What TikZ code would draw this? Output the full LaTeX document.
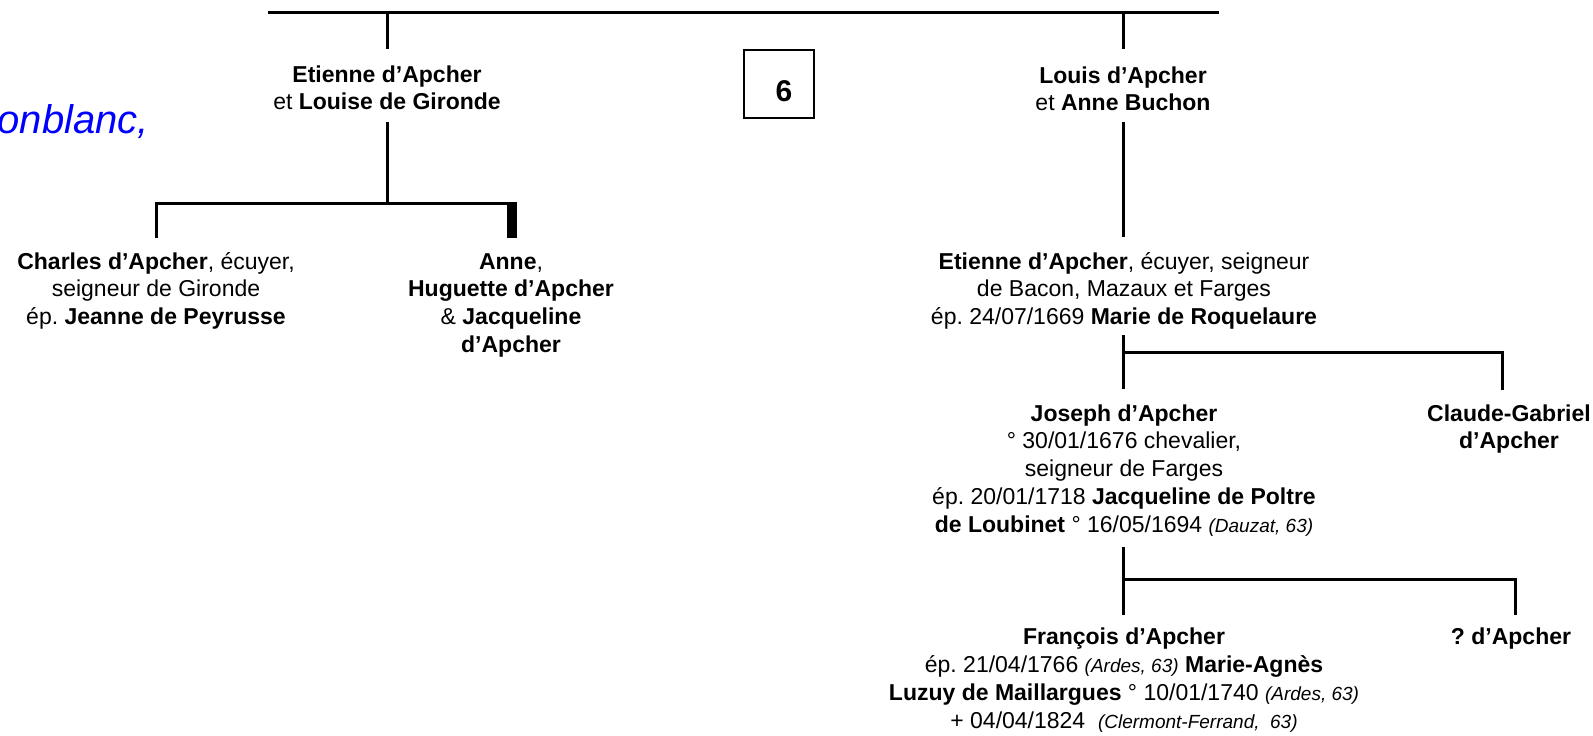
\documentclass[tikz,border=0pt]{standalone}
\usepackage{fontspec}
\setmainfont{Liberation Sans}
\frenchspacing
\begin{document}
\begin{tikzpicture}[x=1pt,y=-1pt,
  txt/.style={align=center, font=\fontsize{23}{27.8}\selectfont, inner sep=0pt, anchor=base},
  ln/.style={line width=3pt},
  thickbar/.style={line width=10pt},
]
\newcommand{\smit}[1]{{\fontsize{19}{20}\selectfont\itshape #1}}
\useasboundingbox (0,0) rectangle (1593,736);

% text nodes (anchor = baseline of the last line)
\node[anchor=base east, text=blue, font=\fontsize{40}{42}\selectfont\itshape, inner sep=0pt] (blue) at (149,133) {onblanc,};
\node[txt] (etA) at (387,109.8) {\textbf{Etienne d’Apcher}\\et \textbf{Louise de Gironde}};
\node[txt] (louis) at (1123,110.8) {\textbf{Louis d’Apcher}\\et \textbf{Anne Buchon}};
\node[draw, line width=1.2pt, minimum width=70pt, minimum height=68pt, inner sep=0pt] (box) at (779,84) {};
\node[anchor=base, inner sep=0pt, font=\fontsize{30}{32}\selectfont\bfseries] (six) at (784,101.5) {6};
\node[txt] (charles) at (156,324.6) {\textbf{Charles d’Apcher}, écuyer,\\seigneur de Gironde\\ép. \textbf{Jeanne de Peyrusse}};
\node[txt] (anne) at (511,352.4) {\textbf{Anne},\\\textbf{Huguette d’Apcher}\\\& \textbf{Jacqueline}\\\textbf{d’Apcher}};
\node[txt] (etB) at (1124,324.6) {\textbf{Etienne d’Apcher}, écuyer, seigneur\\de Bacon, Mazaux et Farges\\ép. 24/07/1669 \textbf{Marie de Roquelaure}};
\node[txt] (joseph) at (1124,532.2) {\textbf{Joseph d’Apcher}\\° 30/01/1676 chevalier,\\seigneur de Farges\\ép. 20/01/1718 \textbf{Jacqueline de Poltre}\\\textbf{de Loubinet} ° 16/05/1694 \smit{(Dauzat, 63)}};
\node[txt] (claude) at (1509,448.8) {\textbf{Claude-Gabriel}\\\textbf{d’Apcher}};
\node[txt, font=\fontsize{23}{28}\selectfont] (francois) at (1124,728) {\textbf{François d’Apcher}\\ép. 21/04/1766 \smit{(Ardes, 63)} \textbf{Marie-Agnès}\\\textbf{Luzuy de Maillargues} ° 10/01/1740 \smit{(Ardes, 63)}\\+ 04/04/1824 \ \smit{(Clermont-Ferrand, \ 63)}};
\node[txt] (qq) at (1511,644) {\textbf{? d’Apcher}};

% junction coordinates
\coordinate (topL) at (268,12);
\coordinate (topR) at (1219,12);
\coordinate (tA) at (387,12);
\coordinate (aTop) at (387,49);
\coordinate (aBot) at (387,122);
\coordinate (aJ) at (387,203);
\coordinate (cJ) at (156,203);
\coordinate (cTop) at (156,238);
\coordinate (nJ) at (512,201.5);
\coordinate (nJh) at (517,203);
\coordinate (nTop) at (512,238);
\coordinate (tB) at (1123,12);
\coordinate (lTop) at (1123,49);
\coordinate (lBot) at (1123,122);
\coordinate (eTop) at (1123,237);
\coordinate (eBot) at (1123,335);
\coordinate (eJ) at (1123,352);
\coordinate (jTop) at (1123,389);
\coordinate (gJ) at (1502,352);
\coordinate (gTop) at (1502,390);
\coordinate (jBot) at (1123,547);
\coordinate (jJ) at (1123,579);
\coordinate (fTop) at (1123,615);
\coordinate (qJ) at (1515,579);
\coordinate (qTop) at (1515,615);

% connectors
\draw[ln] (topL) -- (topR);
\draw[ln] (tA) -- (aTop);
\draw[ln] (aBot) -- (aJ);
\draw[ln] (cTop) -- (cJ) -- (nJh);
\draw[thickbar] (nJ) -- (nTop);
\draw[ln] (tB) -- (lTop);
\draw[ln] (lBot) -- (eTop);
\draw[ln] (eBot) -- (jTop);
\draw[ln] (eJ) -- (gJ) -- (gTop);
\draw[ln] (jBot) -- (fTop);
\draw[ln] (jJ) -- (qJ) -- (qTop);
\end{tikzpicture}
\end{document}
